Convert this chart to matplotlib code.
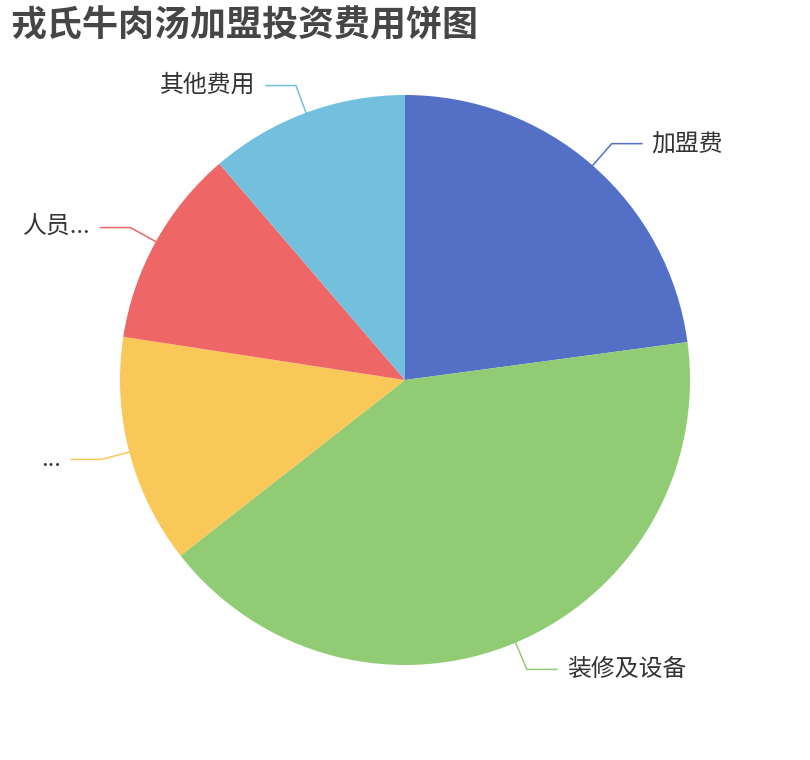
import numpy as np
import matplotlib
matplotlib.use('Agg')
import matplotlib.pyplot as plt

plt.rcParams['font.family'] = ['Noto Sans CJK SC', 'DejaVu Sans']

# Data
title = '戎氏牛肉汤加盟投资费用饼图'
labels = ['加盟费', '装修及设备', '...', '人员...', '其他费用']
values = [22.9, 41.6, 13.0, 11.3, 11.3]
colors = ['#5470c6', '#91cc75', '#fac858', '#ee6666', '#73c0de']

W, H = 810, 760
cx, cy, r = 405, 380, 285

fig = plt.figure(figsize=(W / 100, H / 100), dpi=100)
ax = fig.add_axes([0, 0, 1, 1])

ax.pie(values, colors=colors, startangle=90, counterclock=False,
       center=(cx, H - cy), radius=r,
       wedgeprops=dict(linewidth=0, antialiased=True))

# pie() resets the limits, so set the pixel frame afterwards
ax.set_xlim(0, W)
ax.set_ylim(0, H)
ax.set_aspect('equal')
ax.axis('off')

# Leader lines and labels
total = sum(values)
start = 0.0
for lab, v, col in zip(labels, values, colors):
    frac = v / total
    mid = np.deg2rad((start + frac / 2) * 360)
    start += frac
    dx, dy = np.sin(mid), np.cos(mid)
    x0, y0 = cx + r * dx, (H - cy) + r * dy
    x1, y1 = cx + (r + 29) * dx, (H - cy) + (r + 29) * dy
    side = 1 if dx >= 0 else -1
    x2 = x1 + side * 30
    ax.plot([x0, x1, x2], [y0, y1, y1], color=col, lw=1.1,
            solid_joinstyle='miter')
    ax.text(x2 + side * 10, y1, lab, ha='left' if side > 0 else 'right',
            va='center', fontsize=17.2, color='#333333')

ax.text(10, H - 26, title, ha='left', va='center', fontsize=25.9,
        fontweight='bold', color='#464646')

fig.savefig('out.png', dpi=100)
